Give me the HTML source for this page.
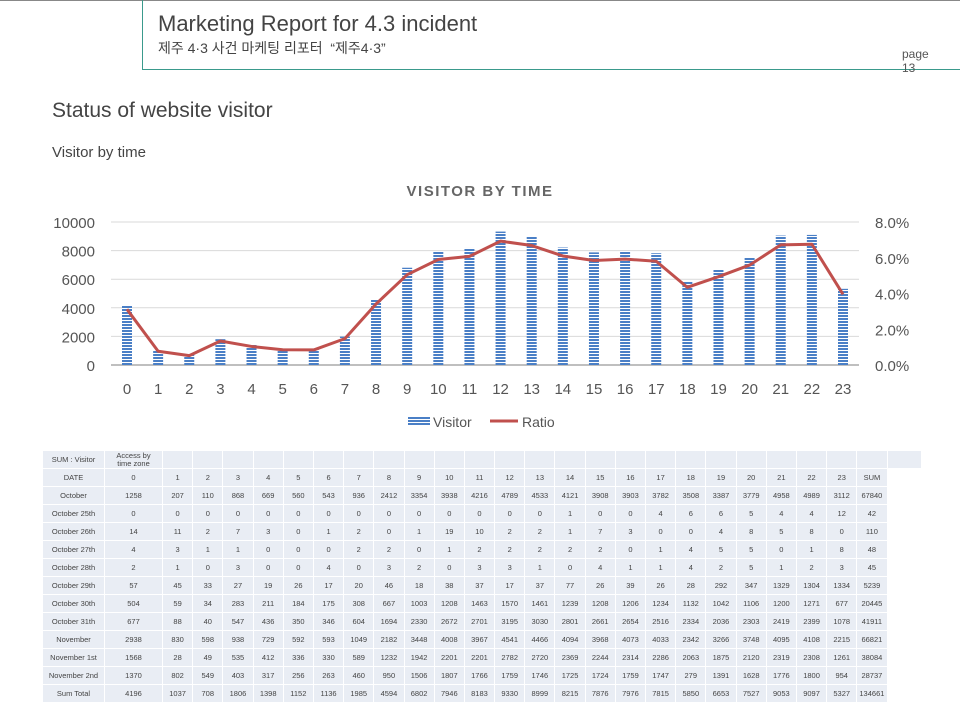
<!DOCTYPE html>
<html><head><meta charset="utf-8">
<style>
body{margin:0;width:960px;height:721px;background:#fff;font-family:"Liberation Sans","Noto Sans CJK KR",sans-serif;position:relative;overflow:hidden}
.abs{position:absolute}
table{border-collapse:separate;border-spacing:1px;font-size:7.5px;color:#444}
td{background:#e9edf4;text-align:center;height:17px;padding:0;white-space:nowrap}
</style></head><body>
<div class="abs" style="left:0;top:0;width:960px;height:1px;background:#888"></div>
<div class="abs" style="left:142px;top:0;width:1px;height:70px;background:#3a9a8c"></div>
<div class="abs" style="left:142px;top:69px;width:818px;height:1px;background:#3a9a8c"></div>
<div class="abs" style="left:158px;top:11px;font-size:22px;color:#444">Marketing Report for 4.3 incident</div>
<div class="abs" style="left:158px;top:38px;font-size:14px;color:#444">제주 4·3 사건 마케팅 리포터 &nbsp;“제주4·3”</div>
<div class="abs" style="left:902px;top:47px;font-size:12px;line-height:14px;color:#555">page<br>13</div>
<div class="abs" style="left:52px;top:99px;font-size:21px;color:#444">Status of website visitor</div>
<div class="abs" style="left:52px;top:144px;font-size:15px;color:#444">Visitor by time</div>

<svg class="abs" style="left:0;top:0" width="960" height="440">
<defs><pattern id="hs" width="4" height="3" patternUnits="userSpaceOnUse"><rect width="4" height="3" fill="#fff"/><rect width="4" height="2" fill="#4a7fc6"/></pattern></defs>
<text x="480" y="196" text-anchor="middle" font-size="15" font-weight="bold" fill="#666" letter-spacing="1.5">VISITOR BY TIME</text>
<g id="grid"></g><g id="bars"></g><g id="line"></g><g id="labels"></g>
<g>
<rect x="408" y="416" width="22" height="10" fill="url(#hs)"/>
<text x="433" y="427" font-size="14" fill="#555">Visitor</text>
<line x1="490" y1="421" x2="518" y2="421" stroke="#c0504d" stroke-width="3"/>
<text x="522" y="427" font-size="14" fill="#555">Ratio</text>
</g>
</svg>
<div class="abs" style="left:42px;top:450px"><table id="tbl"></table></div>
<script>
const hours=[0,1,2,3,4,5,6,7,8,9,10,11,12,13,14,15,16,17,18,19,20,21,22,23];
const visitors=[4196,1037,708,1806,1398,1152,1136,1985,4594,6802,7946,8183,9330,8999,8215,7876,7976,7815,5850,6653,7527,9053,9097,5327];
const total=134661;
const leftTicks=[0,2000,4000,6000,8000,10000];
const rightTicks=["0.0%","2.0%","4.0%","6.0%","8.0%"];
const NS="http://www.w3.org/2000/svg";
const x0=127,x1=843,yb=365,yt=222;
const xs=i=>x0+(x1-x0)*i/23;
const yl=v=>yb-(yb-yt)*v/10000;
const yr=p=>yb-(yb-yt)*p/0.08;
function mk(t,a,p){const e=document.createElementNS(NS,t);for(const k in a)e.setAttribute(k,a[k]);p.appendChild(e);return e;}
const g=document.getElementById('grid'),b=document.getElementById('bars'),l=document.getElementById('line'),lb=document.getElementById('labels');
leftTicks.forEach((v,i)=>{
 const ln=mk('line',{x1:111,x2:859,y1:yl(v),y2:yl(v),stroke:i?'#d9d9d9':'#bfbfbf','stroke-width':i?1:2},g);
 
 
 const t=mk('text',{x:95,y:yl(v)+6,'text-anchor':'end','font-size':15,fill:'#555'},lb);t.textContent=v;
 
 
});
rightTicks.forEach((s,i)=>{
 const t=mk('text',{x:875,y:yr(i*0.02)+6,'font-size':15,fill:'#555'},lb);t.textContent=s;
 
 
});
let pts=[];
hours.forEach((h,i)=>{
 const r=mk('rect',{x:xs(i)-5,y:yl(visitors[i]),width:10,height:yb-yl(visitors[i]),fill:'url(#hs)'},b);
 
 
 pts.push(xs(i)+','+yr(visitors[i]/total));
 const t=mk('text',{x:xs(i),y:394,'text-anchor':'middle','font-size':15,fill:'#555'},lb);t.textContent=h;
 
 
});
const pl=mk('polyline',{points:pts.join(' '),fill:'none',stroke:'#c0504d','stroke-width':3,'stroke-linejoin':'round'},l);



const rows=[
["SUM : Visitor","Access by<br>time zone"].concat(Array(25).fill("")),
["DATE"].concat(hours.map(String),["SUM"]),
["October",1258,207,110,868,669,560,543,936,2412,3354,3938,4216,4789,4533,4121,3908,3903,3782,3508,3387,3779,4958,4989,3112,67840],
["October 25th",0,0,0,0,0,0,0,0,0,0,0,0,0,0,1,0,0,4,6,6,5,4,4,12,42],
["October 26th",14,11,2,7,3,0,1,2,0,1,19,10,2,2,1,7,3,0,0,4,8,5,8,0,110],
["October 27th",4,3,1,1,0,0,0,2,2,0,1,2,2,2,2,2,0,1,4,5,5,0,1,8,48],
["October 28th",2,1,0,3,0,0,4,0,3,2,0,3,3,1,0,4,1,1,4,2,5,1,2,3,45],
["October 29th",57,45,33,27,19,26,17,20,46,18,38,37,17,37,77,26,39,26,28,292,347,1329,1304,1334,5239],
["October 30th",504,59,34,283,211,184,175,308,667,1003,1208,1463,1570,1461,1239,1208,1206,1234,1132,1042,1106,1200,1271,677,20445],
["October 31th",677,88,40,547,436,350,346,604,1694,2330,2672,2701,3195,3030,2801,2661,2654,2516,2334,2036,2303,2419,2399,1078,41911],
["November",2938,830,598,938,729,592,593,1049,2182,3448,4008,3967,4541,4466,4094,3968,4073,4033,2342,3266,3748,4095,4108,2215,66821],
["November 1st",1568,28,49,535,412,336,330,589,1232,1942,2201,2201,2782,2720,2369,2244,2314,2286,2063,1875,2120,2319,2308,1261,38084],
["November 2nd",1370,802,549,403,317,256,263,460,950,1506,1807,1766,1759,1746,1725,1724,1759,1747,279,1391,1628,1776,1800,954,28737],
["Sum Total"].concat(visitors,[total])
];
const tb=document.getElementById('tbl');
rows.forEach((r,ri)=>{
 const tr=document.createElement('tr');
 
 
 r.forEach((c,ci)=>{
  const td=document.createElement('td');
  td.innerHTML=c;
  td.style.width=ci==0?'61px':ci==1?'57px':(ci==26?'33px':'29.2px');
  if(ri==0&&ci==1){td.style.lineHeight='8px';}
  
  
  tr.appendChild(td);
 });
 tb.appendChild(tr);
});
</script>
</body></html>
